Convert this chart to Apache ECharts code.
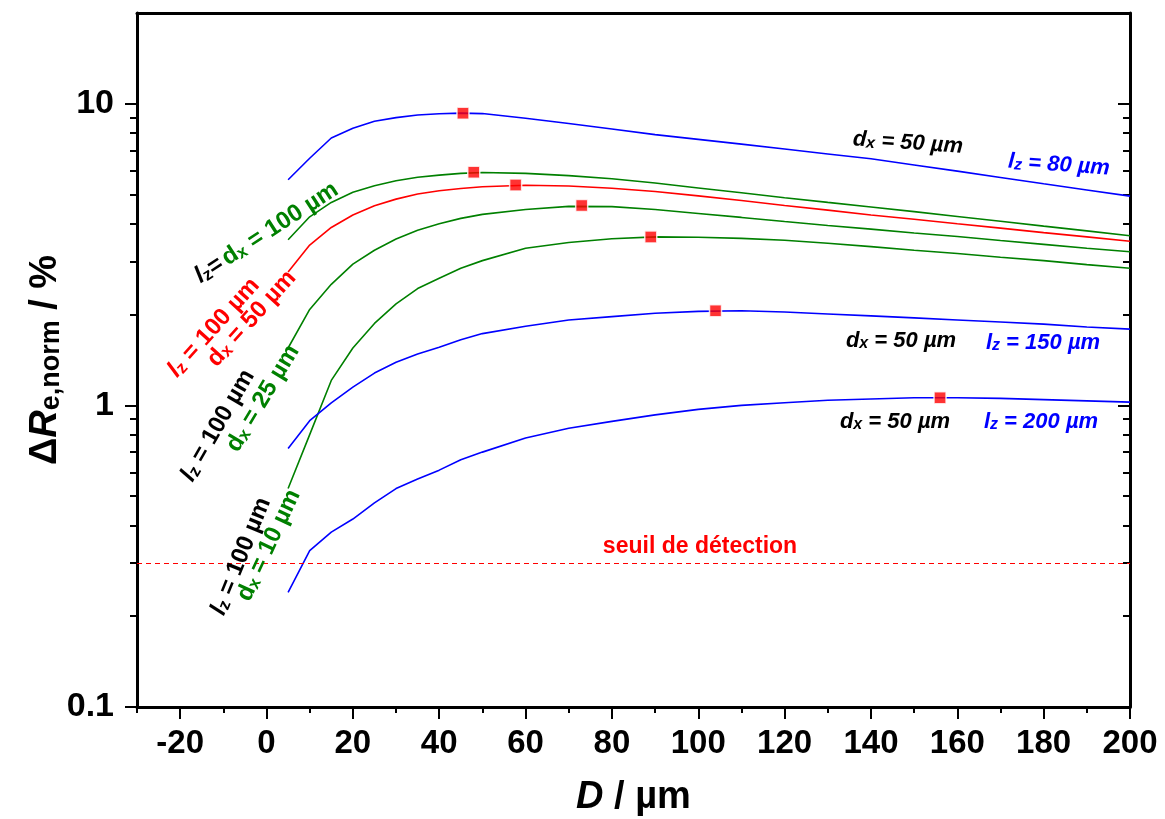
<!DOCTYPE html>
<html><head><meta charset="utf-8">
<script src="https://cdn.jsdelivr.net/npm/echarts@6/dist/echarts.min.js"></script>
<style>html,body{margin:0;padding:0;background:#fff}#c{width:1165px;height:819px}</style>
</head><body><div id="c"></div>
<script>
// ---- data ----
const xs = [5,10,15,20,25,30,35,40,45,50,60,70,80,90,100,110,120,130,140,150,160,170,180,190,200];
const lz80_dx50  = [5.6,6.6,7.7,8.3,8.75,9.0,9.18,9.27,9.31,9.28,8.95,8.6,8.25,7.9,7.62,7.35,7.08,6.82,6.57,6.27,5.98,5.7,5.43,5.18,4.94];
const lz100_dx100 = [3.54,4.22,4.71,5.09,5.35,5.56,5.71,5.80,5.88,5.92,5.88,5.78,5.64,5.46,5.26,5.07,4.88,4.71,4.55,4.39,4.23,4.08,3.93,3.79,3.65];
const lz100_dx50 = [2.77,3.40,3.89,4.28,4.59,4.83,5.02,5.15,5.24,5.31,5.37,5.34,5.25,5.12,4.95,4.78,4.60,4.44,4.28,4.14,4.00,3.87,3.74,3.62,3.50];
const lz100_dx25 = [1.55,2.08,2.52,2.94,3.27,3.56,3.81,4.00,4.17,4.30,4.46,4.57,4.56,4.46,4.33,4.20,4.07,3.95,3.84,3.73,3.63,3.52,3.42,3.32,3.23];
const lz100_dx10 = [0.53,0.80,1.21,1.55,1.87,2.17,2.44,2.64,2.85,3.02,3.32,3.47,3.57,3.62,3.61,3.58,3.53,3.45,3.36,3.27,3.19,3.10,3.02,2.93,2.85];
const lz150_dx50 = [0.72,0.89,1.02,1.15,1.28,1.39,1.48,1.56,1.65,1.73,1.83,1.92,1.97,2.02,2.05,2.06,2.04,2.01,1.98,1.95,1.92,1.89,1.86,1.82,1.79];
const lz200_dx50 = [0.24,0.33,0.38,0.42,0.475,0.53,0.57,0.61,0.66,0.70,0.78,0.84,0.885,0.93,0.97,1.0,1.02,1.04,1.05,1.06,1.06,1.055,1.045,1.035,1.025];
const peakX = [45.5,48,57.7,73,89,104,156];
const peakY = [9.31,5.93,5.38,4.6,3.62,2.06,1.06];
const threshold = 0.3;
const xMajorTicks = [-20,0,20,40,60,80,100,120,140,160,180,200];
const xMinorTicks = [-30,-10,10,30,50,70,90,110,130,150,170,190];
const yMajorTicks = [0.1,1,10];
const yMinorTicks = [0.2,0.3,0.4,0.5,0.6,0.7,0.8,0.9,2,3,4,5,6,7,8,9];

const F = "'Liberation Sans', Arial, sans-serif";
const BLUE = '#0000ff', GREEN = '#008000', RED = '#ff0000';

function pair(vals){ return xs.map((x,i)=>[x, vals[i]]); }
function line(name, vals, color){
  return {name, type:'line', data:pair(vals), showSymbol:false, symbol:'none',
    lineStyle:{color, width:1.6}, itemStyle:{color}, z:3, animation:false};
}

const chart = echarts.init(document.getElementById('c'), null, {renderer:'canvas'});

const lineC = {show:true, onZero:false, lineStyle:{color:'#000', width:3}};
const noLine = {show:false, onZero:false};

function mkRich(){
  const r = {};
  const cols = {k:'#000', g:GREEN, r:RED, b:BLUE};
  for (const c in cols){
    const col = cols[c];
    r[c] = {fill:col, fontFamily:F, fontWeight:'bold', fontSize:24, lineHeight:26, verticalAlign:'bottom'};
    r[c+'l'] = {fill:col, fontFamily:F, fontWeight:'bold', fontStyle:'italic', fontSize:24, lineHeight:26, verticalAlign:'bottom'};
    r[c+'s'] = {fill:col, fontFamily:F, fontWeight:'bold', fontSize:17, lineHeight:6, verticalAlign:'bottom'};
    r[c+'i'] = {fill:col, fontFamily:F, fontWeight:'bold', fontStyle:'italic', fontSize:22, lineHeight:24, verticalAlign:'bottom'};
    r[c+'is'] = {fill:col, fontFamily:F, fontWeight:'bold', fontStyle:'italic', fontSize:16, lineHeight:6, verticalAlign:'bottom'};
  }
  return r;
}
const RICH = mkRich();
function txt(x, y, deg, text){
  return {type:'text', x, y, rotation: deg*Math.PI/180, z:10,
    style:{text, rich:RICH, align:'center', verticalAlign:'middle'}};
}

const graphics = [
  txt(266,232,33,'{kl|l}{ks|z}{k|=} {g|d}{gs|x}{g| = 100 µm}'),
  txt(213,327,48,'{rl|l}{rs|z}{r| = 100 µm}'),
  txt(251,318,48,'{r|d}{rs|x}{r| = 50 µm}'),
  txt(217,425,60,'{kl|l}{ks|z}{k| = 100 µm}'),
  txt(262,398,59,'{g|d}{gs|x}{g| = 25 µm}'),
  txt(240,556,68,'{kl|l}{ks|z}{k| = 100 µm}'),
  txt(268,545,65,'{g|d}{gs|x}{g| = 10 µm}'),
  txt(908,142,-4,'{ki|d}{kis|x}{ki| = 50 µm}'),
  txt(1059,164,-4,'{bi|l}{bis|z}{bi| = 80 µm}'),
  txt(901,340,0,'{ki|d}{kis|x}{ki| = 50 µm}'),
  txt(1043,342,0,'{bi|l}{bis|z}{bi| = 150 µm}'),
  txt(895,421,0,'{ki|d}{kis|x}{ki| = 50 µm}'),
  txt(1041,421,0,'{bi|l}{bis|z}{bi| = 200 µm}'),
  {type:'text', x:700, y:547, z:10, style:{text:'seuil de détection', fill:RED, font:"bold 23px 'Liberation Sans', Arial, sans-serif", align:'center', verticalAlign:'middle'}}
];

const yBase = {type:'log', logBase:10, min:0.1, max:20, splitLine:{show:false}, minorTick:{show:false}};
const xBase = {type:'value', min:-30, max:200, splitLine:{show:false}};

const option = {
  animation:false,
  backgroundColor:'#fff',
  grid:{left:137, right:35, top:13, bottom:112, containLabel:false, outerBoundsMode:'none'},
  xAxis:[
    Object.assign({}, xBase, {position:'bottom', axisLine:lineC,
      axisTick:{show:true, inside:false, length:12, lineStyle:{width:2, color:'#000'}, customValues:xMajorTicks},
      axisLabel:{show:true, margin:20, customValues:xMajorTicks, color:'#000', fontFamily:F, fontWeight:'bold', fontSize:33},
      name:'{d|D}{n| / µm}', nameLocation:'middle', nameGap:72,
      nameTextStyle:{rich:{d:{fontFamily:F, fontWeight:'bold', fontStyle:'italic', fontSize:38, color:'#000'}, n:{fontFamily:F, fontWeight:'bold', fontSize:38, color:'#000'}}}}),
    Object.assign({}, xBase, {position:'bottom', axisLine:noLine,
      axisTick:{show:true, inside:false, length:6, lineStyle:{width:2, color:'#000'}, customValues:xMinorTicks},
      axisLabel:{show:false}}),
    Object.assign({}, xBase, {position:'top', axisLine:lineC, axisTick:{show:false}, axisLabel:{show:false}})
  ],
  yAxis:[
    Object.assign({}, yBase, {position:'left', axisLine:lineC,
      axisTick:{show:true, inside:false, length:12, lineStyle:{width:2, color:'#000'}, customValues:yMajorTicks},
      axisLabel:{show:true, margin:23, customValues:yMajorTicks, color:'#000', fontFamily:F, fontWeight:'bold', fontSize:34,
        formatter:v=>String(+(+v).toPrecision(3))},
      name:'{d|Δ}{r|R}{s|e,norm}{n| / %}', nameLocation:'middle', nameGap:72, nameMoveOverlap:false,
      nameTextStyle:{rich:{
        d:{fontFamily:F, fontWeight:'bold', fontSize:38, color:'#000', lineHeight:44, verticalAlign:'bottom'},
        r:{fontFamily:F, fontWeight:'bold', fontStyle:'italic', fontSize:38, color:'#000', lineHeight:44, verticalAlign:'bottom'},
        s:{fontFamily:F, fontWeight:'bold', fontSize:27, color:'#000', lineHeight:14, verticalAlign:'bottom'},
        n:{fontFamily:F, fontWeight:'bold', fontSize:38, color:'#000', lineHeight:44, verticalAlign:'bottom'}}}}),
    Object.assign({}, yBase, {position:'left', axisLine:noLine,
      axisTick:{show:true, inside:false, length:7, lineStyle:{width:2, color:'#000'}, customValues:yMinorTicks},
      axisLabel:{show:false}}),
    Object.assign({}, yBase, {position:'right', axisLine:lineC,
      axisTick:{show:true, inside:true, length:12, lineStyle:{width:2, color:'#000'}, customValues:yMajorTicks},
      axisLabel:{show:false}}),
    Object.assign({}, yBase, {position:'right', axisLine:noLine,
      axisTick:{show:true, inside:true, length:7, lineStyle:{width:2, color:'#000'}, customValues:yMinorTicks},
      axisLabel:{show:false}})
  ],
  series:[
    Object.assign(line('lz80', lz80_dx50, BLUE), {
      markLine:{silent:true, symbol:'none', label:{show:false},
        lineStyle:{color:'#ff0000', width:1, type:[5,4]}, data:[{yAxis:threshold}]}}),
    line('dx100', lz100_dx100, GREEN),
    line('dx50', lz100_dx50, RED),
    line('dx25', lz100_dx25, GREEN),
    line('dx10', lz100_dx10, GREEN),
    line('lz150', lz150_dx50, BLUE),
    line('lz200', lz200_dx50, BLUE),
    {name:'max', type:'scatter', data:peakX.map((x,i)=>[x,peakY[i]]), symbol:'rect', symbolSize:12,
      itemStyle:{color:RED, borderColor:'#fff', borderWidth:1.5}, z:5}
  ],
  graphic:graphics
};
chart.setOption(option);
</script>
</body></html>
